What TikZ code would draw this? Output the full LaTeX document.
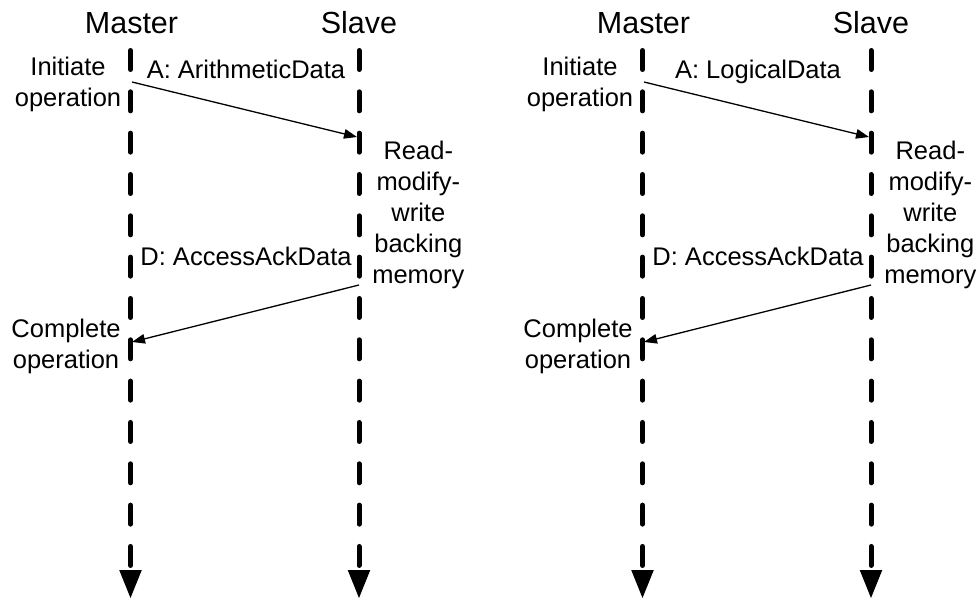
\documentclass[tikz,border=0pt]{standalone}
\usepackage{fontspec}
\setmainfont{Liberation Sans}
\usetikzlibrary{arrows.meta}
\begin{document}
\begin{tikzpicture}[x=1pt,y=-1pt,
  lifeline/.style={line width=5pt, line cap=round, dash pattern=on 19pt off 22.33pt},
  headtip/.style={fill=black},
  msg/.style={line width=1.3pt, -{Triangle[length=13pt,width=9.5pt]}},
  title/.style={font=\fontsize{30.5}{36}\selectfont, inner sep=0pt, anchor=base},
  lbl/.style={font=\fontsize{25.5}{30.8}\selectfont, inner sep=0pt, align=center},
]
\useasboundingbox[fill=white] (0,0) rectangle (980,599);
\foreach \dx/\p/\alab in {0/L/{A: ArithmeticData}, 512/R/{A: LogicalData}} {
\begin{scope}[xshift=\dx]
  \node[title] (\p-mtitle) at (131.5,33.3) {Master};
  \node[title] (\p-stitle) at (359,33.3) {Slave};
  \coordinate (\p-mt) at (130.5,50.5);
  \coordinate (\p-mb) at (130.5,570);
  \coordinate (\p-st) at (359,50.5);
  \coordinate (\p-sb) at (359,570);
  \draw[lifeline] (\p-mt) -- (\p-mb);
  \draw[lifeline] (\p-st) -- (\p-sb);
  \fill[headtip] (\p-mb) ++(-11.3,0) -- ++(22.6,0) -- ++(-11.3,28) -- cycle;
  \fill[headtip] (\p-sb) ++(-11.3,0) -- ++(22.6,0) -- ++(-11.3,28) -- cycle;
  \coordinate (\p-a1) at (132,82);
  \coordinate (\p-a2) at (357,137);
  \coordinate (\p-d1) at (359,285);
  \coordinate (\p-d2) at (132,342);
  \draw[msg] (\p-a1) -- (\p-a2);
  \draw[msg] (\p-d1) -- (\p-d2);
  \node[lbl, anchor=base] (\p-alab) at (246,79) {\alab};
  \node[lbl, anchor=base] (\p-dlab) at (246,265) {D: AccessAckData};
  \node[lbl, anchor=base] (\p-init) at (68,106.7) {Initiate\\operation};
  \node[lbl, anchor=base] (\p-rmw) at (418.3,283) {Read-\\modify-\\write\\backing\\memory};
  \node[lbl, anchor=base] (\p-comp) at (66,368.3) {Complete\\operation};
\end{scope}
}
\end{tikzpicture}
\end{document}
